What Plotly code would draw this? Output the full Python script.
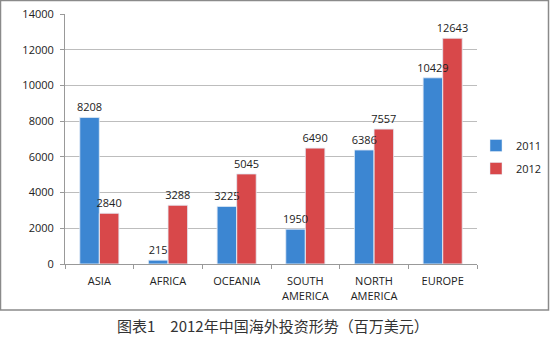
import plotly.graph_objects as go

categories = ["ASIA", "AFRICA", "OCEANIA", "SOUTH<br>AMERICA", "NORTH<br>AMERICA", "EUROPE"]
values_2011 = [8208, 215, 3225, 1950, 6386, 10429]
values_2012 = [2840, 3288, 5045, 6490, 7557, 12643]
y_ticks = [0, 2000, 4000, 6000, 8000, 10000, 12000, 14000]
caption = "图表1　2012年中国海外投资形势（百万美元）"

FONT = "Open Sans, Noto Sans, DejaVu Sans, sans-serif"
BLUE = "#3C86D2"
RED = "#D8484A"
LABEL_FONT = dict(family=FONT, size=11, color="#222")

fig = go.Figure()
# visible bars
fig.add_trace(go.Bar(x=categories, y=values_2011, name="2011",
                     marker_color=BLUE, legendgroup="a"))
fig.add_trace(go.Bar(x=categories, y=values_2012, name="2012",
                     marker_color=RED, legendgroup="b"))
# transparent copies on an overlay axis that carry the data labels above all bars
for vals in (values_2011, values_2012):
    fig.add_trace(go.Bar(
        x=categories, y=vals, xaxis="x2", showlegend=False,
        marker_color="rgba(0,0,0,0)", hoverinfo="skip",
        text=[str(v) for v in vals], textposition="outside",
        constraintext="none", cliponaxis=False, textfont=LABEL_FONT,
    ))

L, R, T, B = 65, 73, 14, 91
W, H = 550, 355
pw, ph = W - L - R, H - T - B

def px_x(x):
    return (x - L) / pw

def px_y(y):
    return (H - B - y) / ph

fig.update_layout(
    width=W, height=H,
    margin=dict(l=L, r=R, t=T, b=B, autoexpand=False),
    paper_bgcolor="white", plot_bgcolor="white",
    barmode="group", bargap=0.43, bargroupgap=0,
    font=dict(family=FONT, size=11, color="#222"),
    showlegend=True,
    legend=dict(
        x=px_x(476), y=px_y(131), xanchor="left", yanchor="top",
        font=dict(family=FONT, size=11, color="#222"),
        itemwidth=30, traceorder="grouped", tracegroupgap=4,
        bgcolor="rgba(0,0,0,0)",
    ),
    xaxis=dict(
        showline=True, linecolor="#999", linewidth=1,
        ticks="outside", tickson="boundaries", ticklen=4, tickcolor="#999",
        tickfont=dict(family=FONT, size=11, color="#222"),
        ticklabelstandoff=7,
        showgrid=False, automargin=False,
    ),
    xaxis2=dict(
        overlaying="x", matches="x", visible=False, showgrid=False,
    ),
    yaxis=dict(
        range=[0, 14000], tickvals=y_ticks,
        ticktext=[str(v) for v in y_ticks],
        showline=True, linecolor="#999", linewidth=1,
        ticks="outside", ticklen=4, tickcolor="#999",
        ticklabelstandoff=4,
        showgrid=True, gridcolor="#BDBDBD", gridwidth=1,
        zeroline=False, automargin=False,
        tickfont=dict(family=FONT, size=11, color="#222"),
    ),
    shapes=[dict(
        type="rect", xref="paper", yref="paper",
        x0=px_x(0.5), x1=px_x(548.5), y0=px_y(310), y1=px_y(0.5),
        line=dict(color="#8A8A8A", width=1.5), fillcolor="rgba(0,0,0,0)",
        layer="below",
    )],
    annotations=[dict(
        text=caption, xref="paper", yref="paper",
        x=px_x(273), y=px_y(325), xanchor="center", yanchor="middle",
        showarrow=False,
        font=dict(family="Noto Sans CJK SC, sans-serif", size=15, color="#333"),
    )],
)

fig.write_html(
    "out.html",
    config={"displayModeBar": False},
    post_script="document.body.style.margin='0';document.body.style.padding='0';",
)
